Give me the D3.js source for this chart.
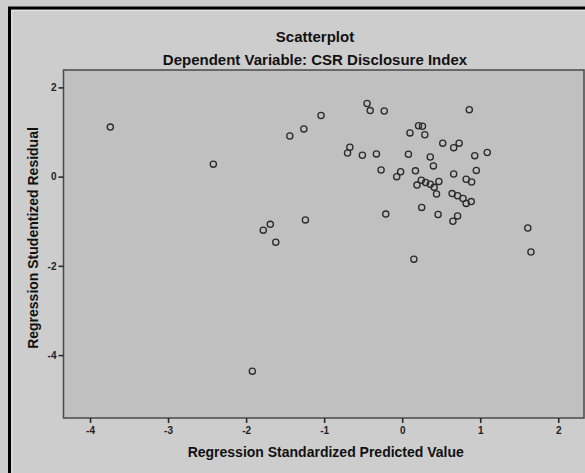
<!DOCTYPE html>
<html lang="en">
<head>
  <meta charset="UTF-8">
  <title>Scatterplot</title>
  <style>
    html, body {
      margin: 0;
      padding: 0;
      background: #cdcdcd;
      overflow: hidden;
    }
    svg {
      display: block;
      font-family: "Liberation Sans", Arial, sans-serif;
    }
    .title {
      font-size: 15px;
      font-weight: bold;
      text-anchor: middle;
      fill: #111;
    }
    .axisTitle {
      font-size: 14px;
      font-weight: bold;
      text-anchor: middle;
      fill: #111;
    }
    .axis path {
      display: none;
    }
    .axis line {
      stroke: #2a2a2a;
      stroke-width: 1.6;
    }
    .axis text {
      font-size: 10px;
      font-weight: bold;
      fill: #222;
      font-family: "Liberation Sans", Arial, sans-serif;
    }
    .pt {
      fill: none;
      stroke: #2a2a2a;
      stroke-width: 1.3;
    }
  </style>
  <script src="https://cdn.jsdelivr.net/npm/d3@7/dist/d3.min.js"></script>
</head>
<body>
<script>
  // ---------- data ----------
  const predicted = [
    -3.74, -2.42, -1.44, -1.26, -1.04, -1.24, -1.78, -1.69, -1.62, -1.92,
    -0.45, -0.41, -0.23, 0.21, 0.26, 0.10, 0.29, -0.67, -0.70, -0.51,
    -0.33, 0.08, -0.27, -0.02, -0.07, 0.17, 0.19, -0.21, 0.15, 0.86,
    0.52, 0.73, 0.66, 0.36, 0.93, 1.09, 0.40, 0.66, 0.95, 0.82,
    0.89, 0.245, 0.30, 0.36, 0.41, 0.47, 0.44, 0.64, 0.71, 0.78,
    0.885, 0.82, 0.25, 0.46, 0.71, 0.65, 1.61, 1.65
  ];
  const residual = [
    1.11, 0.28, 0.91, 1.07, 1.37, -0.97, -1.20, -1.07, -1.47, -4.36,
    1.64, 1.48, 1.47, 1.14, 1.13, 0.98, 0.94, 0.66, 0.53, 0.48,
    0.51, 0.50, 0.15, 0.11, 0.00, 0.13, -0.19, -0.84, -1.85, 1.50,
    0.75, 0.75, 0.65, 0.44, 0.47, 0.54, 0.24, 0.06, 0.14, -0.06,
    -0.12, -0.08, -0.13, -0.17, -0.24, -0.11, -0.39, -0.38, -0.43, -0.49,
    -0.56, -0.60, -0.69, -0.85, -0.88, -1.00, -1.15, -1.69
  ];
  const xTicks = [-4, -3, -2, -1, 0, 1, 2];
  const yTicks = [2, 0, -2, -4];
  const xDomain = [-4.34, 2.33];
  const yDomain = [-5.41, 2.39];

  const width = 585;
  const height = 473;
  const plotLeft = 63.5;
  const plotRight = 584;
  const plotTop = 70;
  const plotBottom = 418;

  // ---------- scales ----------
  const xScale = d3.scaleLinear().domain(xDomain).range([plotLeft, plotRight]);
  const yScale = d3.scaleLinear().domain(yDomain).range([plotBottom, plotTop]);

  const svg = d3.select('body').append('svg')
    .attr('width', width)
    .attr('height', height);

  // outer frame
  svg.append('rect')
    .attr('x', 0).attr('y', 0)
    .attr('width', width).attr('height', height)
    .attr('fill', '#cdcdcd');
  svg.append('path')
    .attr('d', `M${width + 5},8 H9.5 V${height + 5}`)
    .attr('fill', 'none')
    .attr('stroke', '#000')
    .attr('stroke-width', 3);
  svg.append('path')
    .attr('d', `M${width + 5},10.5 H12 V${height + 5}`)
    .attr('fill', 'none')
    .attr('stroke', '#e4e4e4')
    .attr('stroke-width', 1);

  // titles
  svg.append('text').attr('class', 'title')
    .attr('x', 315).attr('y', 42)
    .text('Scatterplot');
  svg.append('text').attr('class', 'title')
    .attr('x', 315).attr('y', 65)
    .text('Dependent Variable: CSR Disclosure Index');

  // plot area
  svg.append('rect')
    .attr('x', plotLeft).attr('y', plotTop)
    .attr('width', plotRight - plotLeft)
    .attr('height', plotBottom - plotTop)
    .attr('fill', '#c0c0c0')
    .attr('stroke', '#4a4a4a')
    .attr('stroke-width', 1.5);

  // axes
  const xAxis = d3.axisBottom(xScale)
    .tickValues(xTicks)
    .tickSize(5)
    .tickPadding(4)
    .tickFormat(d3.format('d'));
  const yAxis = d3.axisLeft(yScale)
    .tickValues(yTicks)
    .tickSize(5)
    .tickPadding(2)
    .tickFormat(d3.format('d'));

  svg.append('g')
    .attr('class', 'axis')
    .attr('transform', `translate(0,${plotBottom})`)
    .call(xAxis);
  svg.append('g')
    .attr('class', 'axis')
    .attr('transform', `translate(${plotLeft},0)`)
    .call(yAxis);
  // use plain hyphen like the original output
  svg.selectAll('.axis text').text((d) => String(d));

  // axis titles
  svg.append('text').attr('class', 'axisTitle')
    .attr('x', (plotLeft + plotRight) / 2 + 2).attr('y', 457)
    .text('Regression Standardized Predicted Value');
  svg.append('text').attr('class', 'axisTitle')
    .attr('transform', `translate(38,${(plotTop + plotBottom) / 2 - 6}) rotate(-90)`)
    .text('Regression Studentized Residual');

  // points
  svg.append('g')
    .selectAll('circle')
    .data(predicted.map((x, i) => ({ x, y: residual[i] })))
    .enter()
    .append('circle')
    .attr('class', 'pt')
    .attr('cx', (d) => xScale(d.x))
    .attr('cy', (d) => yScale(d.y))
    .attr('r', 3.1);
</script>
</body>
</html>
